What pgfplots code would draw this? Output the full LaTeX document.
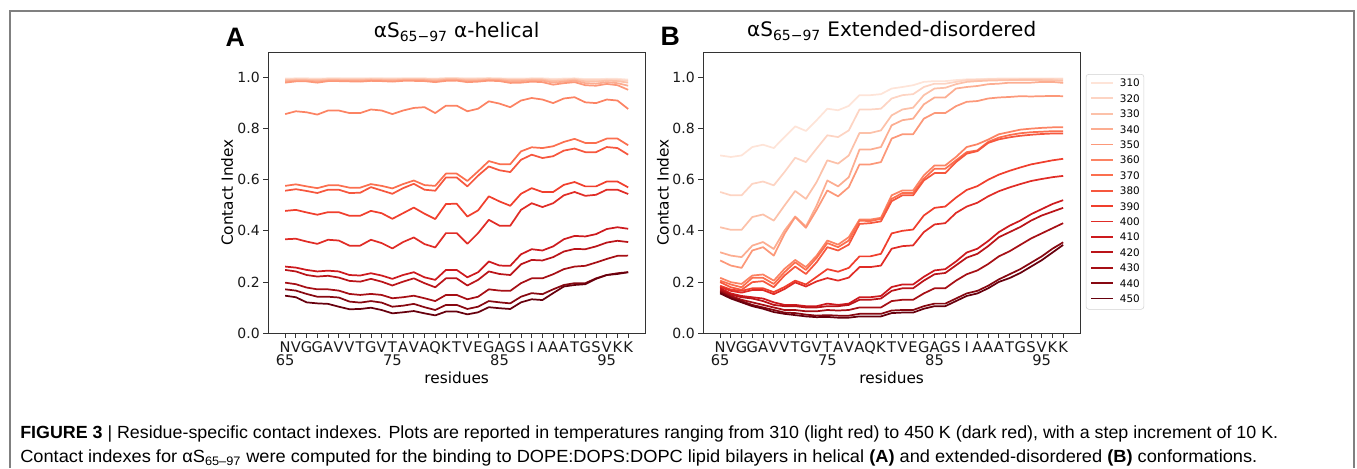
\documentclass[border=0pt]{standalone}
\usepackage{fontspec}
\setmainfont{DejaVu Sans}
\newfontfamily\capfont{Liberation Sans}
\usepackage{graphicx}
\usepackage{pgfplots}
\usepackage{pgfplotstable}
\pgfplotsset{compat=1.18}

% Reds colormap, 310 K (light) to 450 K (dark)
\definecolor{c310}{RGB}{254,228,216}
\definecolor{c320}{RGB}{253,212,195}
\definecolor{c330}{RGB}{252,193,169}
\definecolor{c340}{RGB}{252,173,145}
\definecolor{c350}{RGB}{252,152,121}
\definecolor{c360}{RGB}{252,131,99}
\definecolor{c370}{RGB}{251,111,79}
\definecolor{c380}{RGB}{246,87,62}
\definecolor{c390}{RGB}{240,63,45}
\definecolor{c400}{RGB}{224,44,38}
\definecolor{c410}{RGB}{205,26,30}
\definecolor{c420}{RGB}{186,20,25}
\definecolor{c430}{RGB}{166,15,21}
\definecolor{c440}{RGB}{135,8,17}
\definecolor{c450}{RGB}{103,0,13}

% one row per temperature, one column per residue 65..97
\pgfplotstableread{
T r65 r66 r67 r68 r69 r70 r71 r72 r73 r74 r75 r76 r77 r78 r79 r80 r81 r82 r83 r84 r85 r86 r87 r88 r89 r90 r91 r92 r93 r94 r95 r96 r97
t310 0.996 0.997 0.997 0.996 0.997 0.997 0.997 0.997 0.997 0.997 0.997 0.997 0.997 0.997 0.996 0.998 0.998 0.997 0.997 0.998 0.997 0.996 0.996 0.997 0.997 0.995 0.996 0.997 0.994 0.994 0.995 0.995 0.992
t320 0.993 0.994 0.994 0.993 0.995 0.995 0.994 0.994 0.995 0.995 0.994 0.995 0.995 0.995 0.994 0.996 0.996 0.994 0.995 0.996 0.995 0.993 0.993 0.995 0.994 0.991 0.993 0.995 0.990 0.990 0.992 0.991 0.987
t330 0.990 0.992 0.991 0.990 0.992 0.992 0.991 0.991 0.993 0.992 0.991 0.993 0.993 0.993 0.991 0.994 0.994 0.991 0.992 0.994 0.993 0.990 0.990 0.992 0.992 0.986 0.989 0.992 0.985 0.984 0.988 0.986 0.980
t340 0.985 0.988 0.988 0.985 0.989 0.989 0.988 0.988 0.990 0.989 0.988 0.990 0.990 0.990 0.987 0.991 0.991 0.987 0.988 0.991 0.990 0.985 0.986 0.989 0.988 0.980 0.984 0.988 0.978 0.976 0.982 0.978 0.968
t350 0.980 0.985 0.985 0.980 0.986 0.986 0.985 0.984 0.987 0.986 0.984 0.987 0.987 0.986 0.982 0.987 0.988 0.982 0.984 0.988 0.986 0.979 0.980 0.984 0.982 0.972 0.978 0.982 0.970 0.968 0.975 0.970 0.952
t360 0.857 0.868 0.864 0.855 0.871 0.871 0.861 0.861 0.875 0.871 0.857 0.871 0.881 0.884 0.861 0.890 0.890 0.868 0.878 0.907 0.898 0.884 0.910 0.920 0.914 0.900 0.918 0.923 0.903 0.900 0.914 0.910 0.877
t370 0.576 0.582 0.574 0.567 0.578 0.578 0.569 0.569 0.583 0.576 0.566 0.583 0.597 0.579 0.576 0.624 0.624 0.595 0.633 0.673 0.661 0.661 0.711 0.727 0.724 0.731 0.748 0.760 0.744 0.744 0.761 0.761 0.735
t380 0.557 0.563 0.556 0.548 0.561 0.561 0.548 0.549 0.571 0.558 0.545 0.567 0.584 0.561 0.557 0.609 0.609 0.574 0.616 0.652 0.637 0.630 0.678 0.698 0.685 0.692 0.714 0.722 0.708 0.708 0.728 0.724 0.698
t390 0.478 0.482 0.472 0.463 0.473 0.473 0.459 0.459 0.478 0.469 0.447 0.469 0.491 0.467 0.446 0.505 0.506 0.456 0.480 0.535 0.515 0.498 0.545 0.567 0.552 0.552 0.580 0.591 0.574 0.574 0.593 0.593 0.570
t400 0.367 0.369 0.358 0.349 0.365 0.362 0.342 0.342 0.365 0.352 0.331 0.356 0.374 0.348 0.335 0.391 0.391 0.349 0.391 0.443 0.420 0.420 0.482 0.508 0.493 0.508 0.539 0.552 0.537 0.541 0.561 0.561 0.544
t410 0.260 0.256 0.247 0.241 0.244 0.241 0.227 0.225 0.234 0.225 0.212 0.227 0.238 0.218 0.208 0.247 0.247 0.218 0.238 0.280 0.264 0.263 0.308 0.328 0.323 0.339 0.367 0.380 0.378 0.387 0.407 0.414 0.408
t420 0.247 0.241 0.227 0.221 0.224 0.217 0.204 0.201 0.212 0.201 0.186 0.201 0.214 0.195 0.179 0.214 0.214 0.186 0.208 0.241 0.231 0.227 0.269 0.286 0.284 0.297 0.319 0.329 0.328 0.339 0.354 0.361 0.356
t430 0.197 0.191 0.178 0.171 0.171 0.166 0.153 0.149 0.153 0.149 0.136 0.140 0.146 0.136 0.125 0.149 0.149 0.132 0.142 0.171 0.166 0.165 0.195 0.214 0.214 0.230 0.250 0.260 0.263 0.276 0.290 0.302 0.303
t440 0.171 0.166 0.153 0.142 0.142 0.139 0.123 0.119 0.125 0.119 0.103 0.107 0.114 0.101 0.090 0.110 0.110 0.094 0.103 0.125 0.120 0.116 0.142 0.156 0.152 0.171 0.188 0.195 0.195 0.214 0.227 0.234 0.238
t450 0.146 0.140 0.120 0.116 0.114 0.103 0.093 0.094 0.099 0.090 0.077 0.081 0.086 0.077 0.069 0.084 0.084 0.073 0.081 0.101 0.097 0.094 0.120 0.132 0.129 0.156 0.182 0.188 0.191 0.212 0.227 0.231 0.238
}\rawA

\pgfplotstableread{
T r65 r66 r67 r68 r69 r70 r71 r72 r73 r74 r75 r76 r77 r78 r79 r80 r81 r82 r83 r84 r85 r86 r87 r88 r89 r90 r91 r92 r93 r94 r95 r96 r97
t310 0.695 0.689 0.695 0.728 0.737 0.724 0.767 0.809 0.791 0.833 0.878 0.872 0.889 0.931 0.931 0.935 0.957 0.963 0.970 0.983 0.986 0.986 0.990 0.993 0.994 0.995 0.996 0.996 0.996 0.996 0.996 0.996 0.996
t320 0.552 0.539 0.539 0.584 0.593 0.578 0.630 0.686 0.669 0.722 0.774 0.767 0.793 0.875 0.875 0.878 0.918 0.931 0.935 0.963 0.976 0.976 0.983 0.990 0.990 0.993 0.993 0.993 0.994 0.994 0.994 0.994 0.993
t330 0.414 0.404 0.404 0.454 0.464 0.440 0.499 0.556 0.525 0.591 0.676 0.663 0.695 0.783 0.783 0.793 0.852 0.875 0.882 0.931 0.957 0.960 0.974 0.983 0.986 0.988 0.989 0.990 0.990 0.990 0.990 0.989 0.987
t340 0.316 0.303 0.297 0.342 0.356 0.329 0.401 0.456 0.417 0.499 0.597 0.574 0.610 0.718 0.718 0.728 0.813 0.833 0.839 0.895 0.922 0.922 0.957 0.963 0.967 0.974 0.976 0.980 0.980 0.980 0.983 0.983 0.979
t350 0.284 0.264 0.255 0.323 0.336 0.303 0.388 0.454 0.412 0.482 0.558 0.535 0.571 0.660 0.660 0.669 0.761 0.778 0.778 0.839 0.861 0.861 0.888 0.905 0.908 0.918 0.922 0.924 0.927 0.926 0.927 0.928 0.927
t360 0.216 0.199 0.192 0.225 0.229 0.205 0.251 0.286 0.258 0.303 0.362 0.346 0.375 0.444 0.444 0.451 0.539 0.558 0.558 0.617 0.656 0.656 0.689 0.728 0.739 0.757 0.778 0.787 0.796 0.800 0.803 0.805 0.805
t370 0.205 0.190 0.179 0.216 0.216 0.192 0.238 0.277 0.247 0.294 0.352 0.336 0.362 0.440 0.438 0.447 0.525 0.548 0.548 0.604 0.643 0.643 0.676 0.708 0.715 0.748 0.765 0.775 0.782 0.786 0.788 0.790 0.790
t380 0.199 0.179 0.169 0.199 0.203 0.179 0.225 0.260 0.231 0.277 0.336 0.323 0.346 0.427 0.430 0.437 0.516 0.539 0.539 0.597 0.626 0.626 0.669 0.702 0.712 0.744 0.758 0.766 0.772 0.776 0.779 0.781 0.781
t390 0.185 0.170 0.165 0.175 0.175 0.160 0.180 0.205 0.190 0.220 0.250 0.240 0.255 0.300 0.300 0.310 0.390 0.400 0.405 0.460 0.490 0.495 0.530 0.560 0.575 0.600 0.620 0.635 0.648 0.660 0.668 0.676 0.682
t400 0.180 0.165 0.158 0.168 0.168 0.152 0.172 0.198 0.182 0.202 0.215 0.205 0.217 0.258 0.258 0.264 0.330 0.340 0.343 0.395 0.425 0.430 0.470 0.495 0.510 0.535 0.555 0.570 0.583 0.595 0.603 0.610 0.615
t410 0.175 0.155 0.145 0.140 0.135 0.120 0.110 0.110 0.105 0.105 0.115 0.110 0.115 0.140 0.140 0.145 0.180 0.190 0.190 0.220 0.245 0.250 0.280 0.315 0.330 0.360 0.395 0.420 0.440 0.465 0.485 0.505 0.520
t420 0.170 0.150 0.140 0.135 0.125 0.110 0.105 0.105 0.100 0.100 0.105 0.105 0.110 0.130 0.130 0.135 0.165 0.175 0.175 0.205 0.230 0.235 0.265 0.295 0.310 0.340 0.375 0.395 0.415 0.440 0.460 0.475 0.490
t430 0.165 0.145 0.130 0.120 0.110 0.100 0.090 0.090 0.085 0.085 0.090 0.088 0.090 0.100 0.100 0.100 0.125 0.130 0.130 0.155 0.175 0.175 0.205 0.230 0.245 0.270 0.300 0.320 0.345 0.370 0.390 0.410 0.430
t440 0.160 0.140 0.125 0.110 0.100 0.090 0.080 0.078 0.072 0.068 0.070 0.068 0.068 0.075 0.075 0.075 0.088 0.090 0.090 0.105 0.115 0.115 0.135 0.155 0.165 0.185 0.210 0.230 0.250 0.275 0.300 0.330 0.355
t450 0.155 0.135 0.120 0.105 0.095 0.082 0.075 0.070 0.065 0.062 0.063 0.060 0.060 0.065 0.065 0.065 0.078 0.080 0.080 0.095 0.105 0.105 0.125 0.145 0.155 0.175 0.200 0.215 0.235 0.260 0.285 0.315 0.345
}\rawB

\pgfplotstabletranspose[colnames from=T]{\tabA}{\rawA}
\pgfplotstabletranspose[colnames from=T]{\tabB}{\rawB}

\pgfplotsset{
  contact/.style={
    scale only axis, width=283pt, height=210.75pt,
    anchor=south west, clip=false,
    xmin=63.4, xmax=98.6, ymin=0, ymax=1.1,
    xtick={65,...,97},
    xticklabels={{N\\65},V,G,G,A,V,V,T,G,V,{T\\75},A,V,A,Q,K,T,V,E,G,{A\\85},G,S,I,A,A,A,T,G,S,{V\\95},K,K},
    ytick={0,0.2,0.4,0.6,0.8,1.0},
    xtick pos=bottom, ytick pos=left,
    tick align=outside, major tick length=3.5pt,
    tick style={black!80, line width=0.6pt},
    axis line style={black!80, line width=0.6pt},
    xticklabel style={align=center, inner sep=0pt, text=black!90,
      font=\fontsize{11}{9.75}\selectfont},
    yticklabel style={inner sep=0pt, text=black!90, font=\fontsize{10.5}{12}\selectfont,
      /pgf/number format/assume math mode=true,
      /pgf/number format/fixed, /pgf/number format/fixed zerofill,
      /pgf/number format/precision=1},
    xticklabel shift=3pt, yticklabel shift=2.5pt,
    ylabel={Contact Index}, xlabel={residues},
    ylabel style={at={(axis description cs:-0.108,0.5)}, anchor=center,
      font=\fontsize{11.5}{13}\selectfont},
    xlabel style={at={(axis description cs:0.5,-0.178)}, anchor=base,
      font=\fontsize{11.5}{13}\selectfont},
    title style={anchor=base, font=\fontsize{15}{18}\selectfont},
    every axis plot/.append style={line width=1.3pt, line join=round},
  }
}

\begin{document}
\begin{tikzpicture}
\path[use as bounding box] (0pt,0pt) rectangle (1017.75pt,-351pt);
\draw[black!50, line width=0.8pt] (7.5pt,-351pt) -- (7.5pt,-8.25pt) -- (1015.5pt,-8.25pt) -- (1015.5pt,-351pt);

\begin{axis}[contact, at={(201pt,-249.75pt)},
  title={αS\textsubscript{65−97} α-helical},
  title style={at={(axis description cs:0.5,1.022)}}]
\pgfplotsinvokeforeach{310,320,330,340,350,360,370,380,390,400,410,420,430,440,450}{
  \addplot[c#1] table[x expr=\coordindex+65, y=t#1]{\tabA};
}
\node[anchor=base west, font=\capfont\bfseries\fontsize{20}{20}\selectfont]
  at (axis description cs:-0.125,1.018) {A};
\end{axis}

\begin{axis}[contact, at={(527.25pt,-249.75pt)},
  title={αS\textsubscript{65−97} Extended-disordered},
  title style={at={(axis description cs:0.5,1.025)}},
  ylabel style={at={(axis description cs:-0.106,0.5)}},
  legend cell align=left,
  legend image code/.code={\draw[#1, line width=1.4pt] (0pt,0.8pt) -- (16.5pt,0.8pt);},
  legend style={at={(axis description cs:1.0146,0.9217)}, anchor=north west,
    draw=black!18, rounded corners=2pt, fill=white,
    inner xsep=3pt, inner ysep=1.5pt, row sep=0pt, column sep=4.5pt,
    font=\fontsize{7.8}{8}\selectfont,
    nodes={inner sep=0pt, text height=8pt, text depth=3.55pt}}]
\pgfplotsinvokeforeach{310,320,330,340,350,360,370,380,390,400,410,420,430,440,450}{
  \addplot[c#1] table[x expr=\coordindex+65, y=t#1]{\tabB};
  \addlegendentry{#1}
}
\node[anchor=base west, font=\capfont\bfseries\fontsize{20}{20}\selectfont]
  at (axis description cs:-0.125,1.022) {B};
\end{axis}

\node[anchor=base west, inner sep=0pt] at (15pt,-328.5pt)
  {\resizebox{943.5pt}{\height}{\capfont\fontsize{13.2}{15}\selectfont
  \textbf{FIGURE 3} | Residue-specific contact indexes. Plots are reported in temperatures ranging from 310 (light red) to 450 K (dark red), with a step increment of 10 K.}};
\node[anchor=base west, inner sep=0pt] at (15pt,-346.5pt)
  {\resizebox{927.75pt}{\height}{\capfont\fontsize{13.2}{15}\selectfont
  Contact indexes for αS\textsubscript{65–97} were computed for the binding to DOPE:DOPS:DOPC lipid bilayers in helical \textbf{(A)} and extended-disordered \textbf{(B)} conformations.}};
\end{tikzpicture}
\end{document}
